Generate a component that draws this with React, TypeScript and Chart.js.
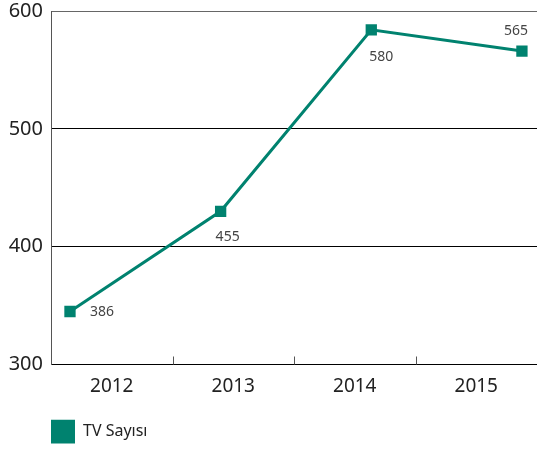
import { useEffect, useRef } from 'react';
import { Chart, registerables } from 'chart.js';

Chart.register(...registerables);

// ---- data ----
const years = ['2012', '2013', '2014', '2015'];
const pointIndex = [0, 1, 2, 3];
const tvValues = [345, 430, 584, 566];
const valueLabels = ['386', '455', '580', '565'];
const yMin = 300;
const yMax = 600;
const yStep = 100;
const seriesName = 'TV Sayısı';

const TEAL = '#00826f';
const FONT = '"Noto Sans", "Open Sans", sans-serif';

const valueLabelPlugin = {
  id: 'valueLabels',
  afterDatasetsDraw(chart: any) {
    const meta = chart.getDatasetMeta(0);
    const ctx = chart.ctx;
    const place: [number, number, CanvasTextAlign][] = [
      [20, 1, 'left'],
      [7, 26, 'center'],
      [10, 27, 'center'],
      [-6, -20, 'center'],
    ];
    ctx.save();
    ctx.font = `14px ${FONT}`;
    ctx.fillStyle = '#444';
    ctx.textBaseline = 'middle';
    meta.data.forEach((pt: any, i: number) => {
      const [dx, dy, al] = place[i] || [0, -15, 'center'];
      ctx.textAlign = al;
      ctx.fillText(valueLabels[i], pt.x + dx, pt.y + dy);
    });
    ctx.restore();
  },
};

const tickMarkPlugin = {
  id: 'tickMarks',
  afterDraw(chart: any) {
    const scale = chart.scales.x;
    const area = chart.chartArea;
    const ctx = chart.ctx;
    ctx.save();
    ctx.strokeStyle = '#555';
    ctx.lineWidth = 1;
    for (let i = 1; i < years.length; i++) {
      const xp = Math.round((scale.getPixelForTick(i - 1) + scale.getPixelForTick(i)) / 2) + 0.5;
      ctx.beginPath();
      ctx.moveTo(xp, area.bottom - 8);
      ctx.lineTo(xp, area.bottom);
      ctx.stroke();
    }
    ctx.restore();
  },
};

export default function App() {
  const ref = useRef<HTMLCanvasElement>(null);
  useEffect(() => {
    document.body.style.margin = '0';
    const chart = new Chart(ref.current!, {
      type: 'line',
      data: {
        labels: years,
        datasets: [
          {
            label: seriesName,
            data: tvValues.map((v, i) => ({ x: pointIndex[i], y: v })),
            xAxisID: 'xl',
            borderColor: TEAL,
            backgroundColor: TEAL,
            borderWidth: 3,
            pointStyle: 'rect',
            pointRadius: 8,
            pointHoverRadius: 8,
            pointBackgroundColor: TEAL,
            pointBorderWidth: 0,
            tension: 0,
          },
        ],
      },
      options: {
        animation: false,
        responsive: false,
        maintainAspectRatio: false,
        layout: { autoPadding: false, padding: { top: 11, right: 0, left: 0, bottom: -3.5 } },
        plugins: {
          tooltip: { enabled: false },
          legend: {
            display: true,
            position: 'bottom',
            align: 'start',
            fullSize: false,
            labels: {
              boxWidth: 24,
              boxHeight: 24,
              padding: 0,
              color: '#222',
              font: { family: FONT, size: 16 },
              generateLabels: (c: any) =>
                Chart.defaults.plugins.legend.labels
                  .generateLabels(c)
                  .map((l: any) => ({ ...l, lineWidth: 0, fillStyle: TEAL })),
            },
          },
        },
        scales: {
          x: {
            type: 'category',
            offset: true,
            grid: { display: false, drawTicks: false },
            border: { display: true, color: '#000', width: 1 },
            ticks: {
              color: '#222',
              padding: 11,
              maxRotation: 0,
              font: { family: FONT, size: 19 },
            },
            afterFit: (s: any) => {
              s.height = 55;
            },
          },
          xl: {
            type: 'linear',
            display: false,
            min: -0.126,
            max: 3.1,
          },
          y: {
            type: 'linear',
            min: yMin,
            max: yMax,
            ticks: {
              stepSize: yStep,
              color: '#222',
              padding: 0,
              font: { family: FONT, size: 20, lineHeight: 1 },
            },
            grid: {
              drawTicks: true,
              tickLength: 8,
              tickColor: 'rgba(0,0,0,0)',
              color: (c: any) => (c.tick && c.tick.value === yMax ? '#666' : '#000'),
              lineWidth: 1,
            },
            border: { display: true, color: '#555', width: 1 },
            afterFit: (s: any) => {
              s.width = 51;
            },
          },
        },
      },
      plugins: [valueLabelPlugin, tickMarkPlugin],
    } as any);
    return () => chart.destroy();
  }, []);
  return (
    <div style={{ width: 537, height: 450, overflow: 'hidden' }}>
      <canvas ref={ref} width={537} height={450} style={{ display: 'block', width: 537, height: 450 }} />
    </div>
  );
}
